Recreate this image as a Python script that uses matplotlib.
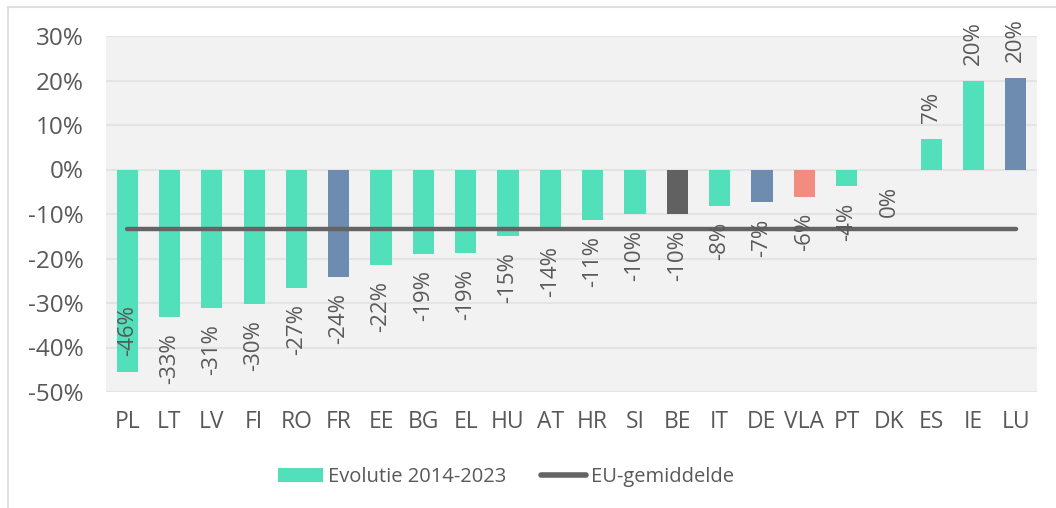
import matplotlib
matplotlib.use("Agg")
import matplotlib.pyplot as plt
from matplotlib.patches import Rectangle
from matplotlib.lines import Line2D
from matplotlib.patches import Patch

categories = ["PL", "LT", "LV", "FI", "RO", "FR", "EE", "BG", "EL", "HU", "AT",
              "HR", "SI", "BE", "IT", "DE", "VLA", "PT", "DK", "ES", "IE", "LU"]
values = [-45.6, -33.1, -31.1, -30.2, -26.6, -24.1, -21.4, -18.9, -18.8, -14.9, -13.7,
          -11.3, -9.9, -9.9, -8.2, -7.4, -6.2, -3.8, 0.0, 6.9, 20.0, 20.5]
labels = ["-46%", "-33%", "-31%", "-30%", "-27%", "-24%", "-22%", "-19%", "-19%", "-15%", "-14%",
          "-11%", "-10%", "-10%", "-8%", "-7%", "-6%", "-4%", "0%", "7%", "20%", "20%"]
eu_average = -13.4
series_name = "Evolutie 2014-2023"
line_name = "EU-gemiddelde"

TEAL = "#52E0BA"
BLUE = "#6E8BB0"
DARK = "#616161"
SALMON = "#F28C80"
special = {"FR": BLUE, "DE": BLUE, "LU": BLUE, "BE": DARK, "VLA": SALMON}
colors = [special.get(c, TEAL) for c in categories]
TXT = "#595959"

plt.rcParams['font.family'] = ['Open Sans', 'DejaVu Sans']
fig = plt.figure(figsize=(10.56, 5.08), dpi=100)
ax = fig.add_axes([106/1056, 1-392/508, (1037-106)/1056, (392-36)/508])
ax.set_facecolor("#F2F2F2")

x = list(range(len(categories)))
ax.bar(x, values, width=0.5, color=colors, zorder=2)
ax.plot(x, [eu_average]*len(x), color="#646464", lw=3.2, solid_capstyle="round", zorder=3)

ax.set_xlim(-0.5, len(categories)-0.5)
ax.set_ylim(-50, 30)
ax.set_yticks(range(-50, 31, 10))
ax.set_yticklabels([f"{t}%" for t in range(-50, 31, 10)])
ax.set_xticks(x)
ax.set_xticklabels(categories)
ax.tick_params(axis='y', length=0, pad=16, labelsize=17.5, labelcolor=TXT)
ax.tick_params(axis='x', length=0, pad=13, labelsize=16.5, labelcolor=TXT)
ax.yaxis.grid(True, color="#E4E4E4", lw=1.5, zorder=0)
ax.set_axisbelow(True)
for s in ax.spines.values():
    s.set_visible(False)

for xi, v, lab in zip(x, values, labels):
    if v > 0:
        ax.annotate(lab, (xi, v), xytext=(0, 11.5), textcoords="offset points",
                    rotation=90, ha="center", va="bottom", fontsize=16, color=TXT)
    elif v - 15.5 < -50:
        ax.annotate(lab, (xi, v), xytext=(0, 11.5), textcoords="offset points",
                    rotation=90, ha="center", va="bottom", fontsize=16, color=TXT)
    else:
        ax.annotate(lab, (xi, v), xytext=(0, -11.5), textcoords="offset points",
                    rotation=90, ha="center", va="top", fontsize=16, color=TXT)

handles = [Patch(facecolor=TEAL, edgecolor="none"),
           Line2D([0], [0], color="#646464", lw=4, solid_capstyle="round")]
fig.legend(handles, [series_name, line_name], loc="center", ncol=2,
           bbox_to_anchor=(506/1056, 1-477/508), frameon=False, fontsize=14.5,
           labelcolor=TXT, handlelength=2.24, handleheight=0.65, handletextpad=0.25,
           columnspacing=1.7)

fig.patches.append(Rectangle((7.5/1056, -0.1), 1.2, 1-7.5/508+0.1, transform=fig.transFigure,
                             fill=False, edgecolor="#E0E0E0", lw=1.5))

fig.savefig("out.png", dpi=100)
